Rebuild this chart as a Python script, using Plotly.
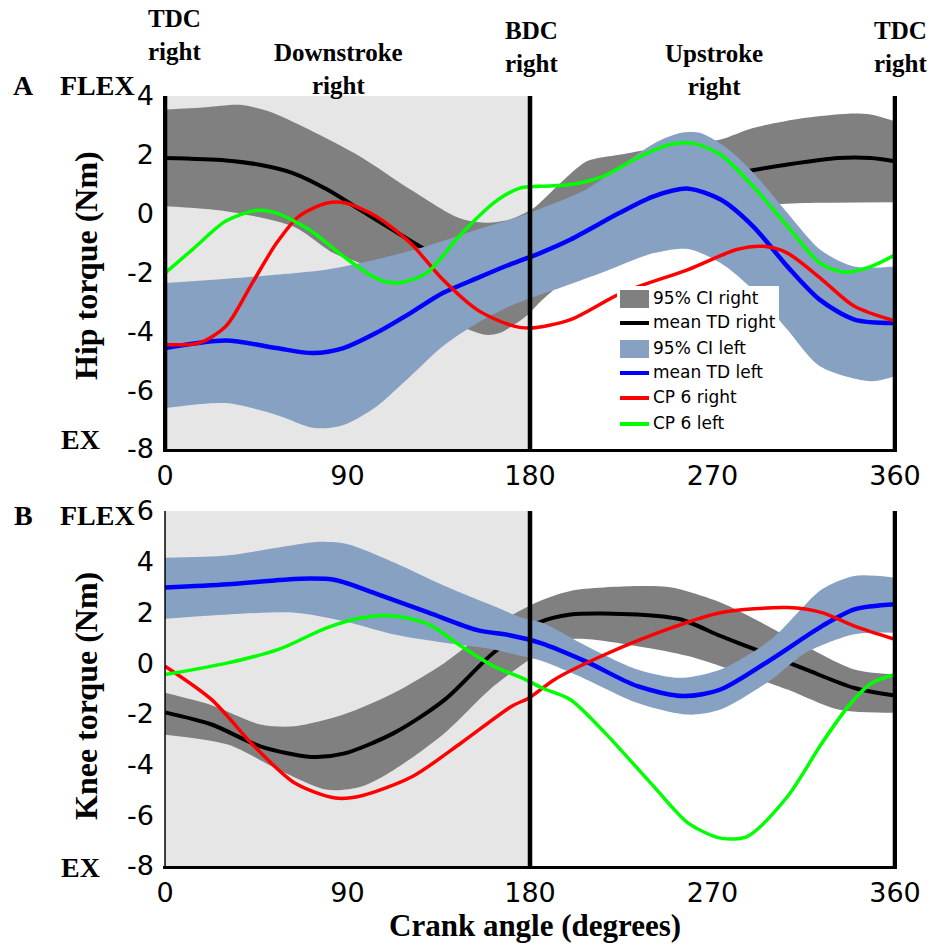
import plotly.graph_objects as go

W, H = 936, 945

# ---------------- Panel A: hip torque (Nm) vs crank angle (deg) ----------------
hip_ci_right_hi_deg = [0, 20, 37, 51, 71, 96, 121, 145, 158, 170, 182, 195, 208, 224, 240, 257, 274, 290, 315, 337, 348, 360]
hip_ci_right_hi = [3.54, 3.62, 3.7, 3.48, 2.86, 1.95, 0.82, -0.15, -0.31, -0.2, 0.2, 1.04, 1.78, 2.0, 2.2, 2.35, 2.52, 2.91, 3.25, 3.4, 3.37, 3.14]
hip_ci_right_lo_deg = [0, 30, 63, 83, 96, 110, 125, 138, 148, 158, 165, 178, 185, 195, 210, 225, 240, 255, 270, 285, 302, 323, 360]
hip_ci_right_lo = [0.25, 0.08, -0.43, -1.34, -1.68, -2.3, -3.0, -3.5, -3.89, -4.12, -4.06, -3.49, -3.0, -2.4, -1.7, -1.3, -1.0, -0.7, -0.35, 0.05, 0.31, 0.37, 0.39]
hip_mean_right_deg = [0, 30, 46, 63, 80, 96, 112, 127, 142, 157, 170, 182, 195, 210, 225, 240, 255, 270, 287, 307, 332, 348, 360]
hip_mean_right = [1.89, 1.81, 1.67, 1.38, 0.82, 0.14, -0.54, -1.17, -1.75, -2.1, -2.0, -1.6, -0.8, -0.05, 0.35, 0.6, 0.85, 1.1, 1.44, 1.67, 1.89, 1.89, 1.78]

hip_ci_left_hi_deg = [0, 46, 80, 104, 129, 154, 175, 190, 207, 224, 241, 254, 264, 277, 290, 307, 323, 340, 360]
hip_ci_left_hi = [-2.36, -2.13, -1.9, -1.56, -1.11, -0.54, -0.1, 0.3, 0.8, 1.58, 2.38, 2.74, 2.74, 2.23, 1.4, 0.02, -1.22, -1.8, -1.8]
hip_ci_left_lo_deg = [0, 30, 55, 74, 88, 104, 121, 137, 154, 170, 185, 192, 216, 241, 258, 274, 290, 307, 323, 348, 360]
hip_ci_left_lo = [-6.61, -6.44, -6.84, -7.29, -7.18, -6.57, -5.53, -4.51, -3.72, -3.15, -2.76, -2.59, -1.99, -1.34, -1.2, -1.68, -2.59, -3.95, -5.19, -5.7, -5.53]
hip_mean_left_deg = [0, 30, 55, 73, 88, 104, 121, 137, 154, 170, 185, 200, 224, 241, 258, 274, 290, 307, 323, 340, 360]
hip_mean_left = [-4.57, -4.31, -4.57, -4.74, -4.57, -4.06, -3.38, -2.7, -2.19, -1.73, -1.34, -0.88, 0.02, 0.59, 0.85, 0.48, -0.43, -1.8, -2.93, -3.6, -3.72]

hip_cp_right_deg = [0, 17, 30, 43, 55, 66, 80, 89, 104, 121, 137, 154, 170, 180, 200, 225, 258, 282, 295, 307, 324, 340, 360]
hip_cp_right = [-4.45, -4.39, -3.83, -2.36, -1.0, -0.09, 0.36, 0.36, -0.09, -1.0, -2.24, -3.27, -3.78, -3.89, -3.6, -2.7, -1.9, -1.22, -1.11, -1.34, -2.24, -3.15, -3.65]
hip_cp_left_deg = [0, 13.5, 30, 45, 55, 71, 88, 104, 114, 129, 145, 162, 175, 185, 200, 216, 233, 249, 261, 274, 290, 307, 323, 335, 348, 360]
hip_cp_left = [-2.02, -1.22, -0.25, 0.11, 0.02, -0.54, -1.45, -2.19, -2.36, -2.02, -0.77, 0.36, 0.87, 0.93, 0.99, 1.27, 1.9, 2.35, 2.38, 2.0, 0.93, -0.43, -1.68, -1.99, -1.8, -1.4]

# ---------------- Panel B: knee torque (Nm) vs crank angle (deg) ----------------
knee_ci_right_hi_deg = [0, 23, 47, 64, 88, 113, 138, 162, 184, 200, 233, 250, 274, 291, 316, 340, 360]
knee_ci_right_hi = [-1.17, -1.66, -2.42, -2.49, -2.03, -1.17, 0.02, 1.46, 2.42, 2.85, 3.04, 2.98, 2.39, 1.73, 0.67, -0.25, -0.45]
knee_ci_right_lo_deg = [0, 31, 56, 80, 97, 113, 138, 162, 184, 200, 233, 258, 274, 307, 332, 360]
knee_ci_right_lo = [-2.82, -3.21, -4.2, -4.99, -4.86, -4.2, -2.75, -0.91, 0.35, 0.94, 0.67, 0.28, -0.12, -1.04, -1.83, -1.96]
knee_mean_right_deg = [0, 23, 47, 72, 88, 113, 138, 162, 184, 200, 233, 254, 274, 291, 316, 340, 360]
knee_mean_right = [-1.94, -2.42, -3.28, -3.7, -3.57, -2.75, -1.44, 0.41, 1.59, 1.92, 1.92, 1.73, 1.07, 0.54, -0.25, -0.98, -1.28]

knee_ci_left_hi_deg = [0, 31, 56, 75, 90, 113, 138, 162, 176, 186, 208, 233, 254, 274, 299, 324, 340, 360]
knee_ci_left_hi = [4.16, 4.25, 4.56, 4.78, 4.69, 3.97, 3.04, 2.25, 1.79, 1.59, 0.67, -0.25, -0.58, -0.25, 0.94, 2.91, 3.44, 3.37]
knee_ci_left_lo_deg = [0, 31, 64, 88, 113, 138, 162, 176, 186, 208, 233, 258, 274, 299, 316, 340, 360]
knee_ci_left_lo = [1.75, 1.92, 1.99, 1.66, 1.13, 0.8, 0.54, 0.28, 0.08, -0.65, -1.57, -2.03, -1.83, -0.65, 0.41, 1.14, 1.2]
knee_mean_left_deg = [0, 31, 67, 84, 105, 130, 154, 170, 185, 208, 233, 256, 274, 299, 324, 340, 360]
knee_mean_left = [2.98, 3.11, 3.33, 3.28, 2.71, 1.99, 1.3, 1.1, 0.8, 0.05, -0.91, -1.3, -1.04, 0.15, 1.46, 2.12, 2.32]

knee_cp_right_deg = [0, 23, 44, 64, 84, 97, 122, 146, 171, 180, 192, 217, 250, 274, 307, 324, 340, 360]
knee_cp_right = [-0.12, -1.44, -3.28, -4.73, -5.32, -5.23, -4.47, -3.15, -1.7, -1.35, -0.65, 0.34, 1.4, 1.99, 2.19, 1.99, 1.46, 0.94]
knee_cp_left_deg = [0, 31, 56, 80, 97, 113, 130, 146, 162, 176, 186, 200, 217, 241, 258, 274, 287, 307, 324, 337, 348, 360]
knee_cp_left = [-0.45, 0.01, 0.54, 1.4, 1.79, 1.86, 1.53, 0.67, -0.12, -0.58, -0.98, -1.44, -2.75, -4.86, -6.31, -6.9, -6.84, -5.26, -3.15, -1.7, -0.81, -0.45]

# ---------------- axis ticks and labels ----------------
angle_ticks = [0, 90, 180, 270, 360]
hip_ticks = [-8, -6, -4, -2, 0, 2, 4]
knee_ticks = [-8, -6, -4, -2, 0, 2, 4, 6]
series_names = ["95% CI right", "mean TD right", "95% CI left", "mean TD left", "CP 6 right", "CP 6 left"]
phase_labels = ["TDC<br>right", "Downstroke<br>right", "BDC<br>right", "Upstroke<br>right", "TDC<br>right"]

GRAY_CI = "#808080"
BLUE_CI = "#86a1c2"
SHADE = "#e6e6e6"
SERIF = "Liberation Serif"
SANS = "DejaVu Sans"


def px(x):
    return x / W


def py(y):
    return 1 - y / H


fig = go.Figure()


def add_panel(xa, ya, ci_r, mean_r, ci_l, mean_l, cp_r, cp_l):
    spl = dict(shape="spline", smoothing=0.8)
    (lo_x, lo_y, hi_x, hi_y) = ci_r
    fig.add_trace(go.Scatter(x=lo_x, y=lo_y, mode="lines", line=dict(width=0, **spl),
                             xaxis=xa, yaxis=ya, showlegend=False, hoverinfo="skip"))
    fig.add_trace(go.Scatter(x=hi_x, y=hi_y, mode="lines", fill="tonexty", fillcolor=GRAY_CI,
                             line=dict(width=0, **spl), name=series_names[0],
                             xaxis=xa, yaxis=ya, showlegend=False))
    fig.add_trace(go.Scatter(x=mean_r[0], y=mean_r[1], mode="lines", name=series_names[1],
                             line=dict(color="black", width=4, **spl),
                             xaxis=xa, yaxis=ya, showlegend=False))
    (lo_x, lo_y, hi_x, hi_y) = ci_l
    fig.add_trace(go.Scatter(x=lo_x, y=lo_y, mode="lines", line=dict(width=0, **spl),
                             xaxis=xa, yaxis=ya, showlegend=False, hoverinfo="skip"))
    fig.add_trace(go.Scatter(x=hi_x, y=hi_y, mode="lines", fill="tonexty", fillcolor=BLUE_CI,
                             line=dict(width=0, **spl), name=series_names[2],
                             xaxis=xa, yaxis=ya, showlegend=False))
    fig.add_trace(go.Scatter(x=mean_l[0], y=mean_l[1], mode="lines", name=series_names[3],
                             line=dict(color="#0000ff", width=4.5, **spl),
                             xaxis=xa, yaxis=ya, showlegend=False))
    fig.add_trace(go.Scatter(x=cp_r[0], y=cp_r[1], mode="lines", name=series_names[4],
                             line=dict(color="#ff0000", width=3.5, **spl),
                             xaxis=xa, yaxis=ya, showlegend=False))
    fig.add_trace(go.Scatter(x=cp_l[0], y=cp_l[1], mode="lines", name=series_names[5],
                             line=dict(color="#00ff00", width=3.5, **spl),
                             xaxis=xa, yaxis=ya, showlegend=False))


add_panel("x", "y",
          (hip_ci_right_lo_deg, hip_ci_right_lo, hip_ci_right_hi_deg, hip_ci_right_hi),
          (hip_mean_right_deg, hip_mean_right),
          (hip_ci_left_lo_deg, hip_ci_left_lo, hip_ci_left_hi_deg, hip_ci_left_hi),
          (hip_mean_left_deg, hip_mean_left),
          (hip_cp_right_deg, hip_cp_right),
          (hip_cp_left_deg, hip_cp_left))
add_panel("x2", "y2",
          (knee_ci_right_lo_deg, knee_ci_right_lo, knee_ci_right_hi_deg, knee_ci_right_hi),
          (knee_mean_right_deg, knee_mean_right),
          (knee_ci_left_lo_deg, knee_ci_left_lo, knee_ci_left_hi_deg, knee_ci_left_hi),
          (knee_mean_left_deg, knee_mean_left),
          (knee_cp_right_deg, knee_cp_right),
          (knee_cp_left_deg, knee_cp_left))

# a one-degree pad each side keeps the 0 and 360 crank markers fully visible
x_dom = [px(163), px(897)]
tickfont = dict(family=SANS, size=27, color="black")
common_x = dict(domain=x_dom, range=[-1, 361], tickvals=angle_ticks, ticktext=[str(t) for t in angle_ticks],
                showline=True, linecolor="black", linewidth=3, ticks="", showgrid=False, zeroline=False,
                tickfont=tickfont, ticklabelstandoff=1, fixedrange=True, automargin=False)
common_y = dict(showline=False, ticks="", showgrid=False, zeroline=False, tickfont=tickfont,
                ticklabelstandoff=8, fixedrange=True, automargin=False)

fig.update_layout(
    width=W, height=H,
    margin=dict(l=0, r=0, t=0, b=0, autoexpand=False),
    paper_bgcolor="white", plot_bgcolor="white",
    showlegend=False,
    xaxis=dict(anchor="y", **common_x),
    xaxis2=dict(anchor="y2", **common_x),
    yaxis=dict(anchor="x", domain=[py(449), py(96)], range=[-8, 4], tickvals=hip_ticks,
               ticktext=[str(t) for t in hip_ticks], **common_y),
    yaxis2=dict(anchor="x2", domain=[py(866), py(511)], range=[-8, 6], tickvals=knee_ticks,
                ticktext=[str(t) for t in knee_ticks], **common_y),
)

shapes = []
# downstroke shading and crank-position markers
for xr, yr, left_w in (("x", "y domain", 4.5), ("x2", "y2 domain", 1.5)):
    shapes.append(dict(type="rect", xref=xr, yref=yr, x0=0, x1=180, y0=0, y1=1,
                       fillcolor=SHADE, line=dict(width=0), layer="below"))
    shapes.append(dict(type="line", xref=xr, yref=yr, x0=0, x1=0, y0=0, y1=1,
                       line=dict(color="black", width=left_w), layer="above"))
    for xv in (180, 360):
        shapes.append(dict(type="line", xref=xr, yref=yr, x0=xv, x1=xv, y0=0, y1=1,
                           line=dict(color="black", width=4.5), layer="above"))

# legend box
leg_colors = [GRAY_CI, "black", BLUE_CI, "#0000ff", "#ff0000", "#00ff00"]
leg_is_patch = [True, False, True, False, False, False]
leg_rows = [299, 323, 349, 373, 398, 424]
shapes.append(dict(type="rect", xref="paper", yref="paper", x0=px(617), x1=px(779), y0=py(440), y1=py(286),
                   fillcolor="white", line=dict(width=0), layer="above"))
annotations = []
for name, col, patch, yr in zip(series_names, leg_colors, leg_is_patch, leg_rows):
    if patch:
        shapes.append(dict(type="rect", xref="paper", yref="paper", x0=px(620), x1=px(649),
                           y0=py(yr + 9), y1=py(yr - 9), fillcolor=col, line=dict(width=0), layer="above"))
    else:
        shapes.append(dict(type="line", xref="paper", yref="paper", x0=px(620), x1=px(649),
                           y0=py(yr), y1=py(yr), line=dict(color=col, width=4), layer="above"))
    annotations.append(dict(text=name, xref="paper", yref="paper", x=px(651), y=py(yr - 1),
                            xanchor="left", yanchor="middle", showarrow=False,
                            font=dict(family=SANS, size=17, color="black")))

# crank phase labels above panel A
phase_x = [174, 338, 531, 714, 900]
phase_y = [35, 69, 47, 70, 47]
for txt, xc, yc in zip(phase_labels, phase_x, phase_y):
    annotations.append(dict(text=f"<b>{txt}</b>", xref="paper", yref="paper", x=px(xc), y=py(yc),
                            xanchor="center", yanchor="middle", showarrow=False,
                            font=dict(family=SERIF, size=25, color="black")))

# panel letters and direction labels
for txt, xc, yc in (("A", 23, 85), ("FLEX", 97, 85), ("EX", 80, 439),
                    ("B", 23, 515), ("FLEX", 97, 515), ("EX", 80, 867)):
    annotations.append(dict(text=f"<b>{txt}</b>", xref="paper", yref="paper", x=px(xc), y=py(yc),
                            xanchor="center", yanchor="middle", showarrow=False,
                            font=dict(family=SERIF, size=28, color="black")))

# axis titles
annotations.append(dict(text="<b>Hip torque (Nm)</b>", xref="paper", yref="paper", x=px(86), y=py(266),
                        xanchor="center", yanchor="middle", textangle=-90, showarrow=False,
                        font=dict(family=SERIF, size=32, color="black")))
annotations.append(dict(text="<b>Knee torque (Nm)</b>", xref="paper", yref="paper", x=px(86), y=py(696),
                        xanchor="center", yanchor="middle", textangle=-90, showarrow=False,
                        font=dict(family=SERIF, size=32, color="black")))
annotations.append(dict(text="<b>Crank angle (degrees)</b>", xref="paper", yref="paper", x=px(535), y=py(925),
                        xanchor="center", yanchor="middle", showarrow=False,
                        font=dict(family=SERIF, size=31, color="black")))

fig.update_layout(shapes=shapes, annotations=annotations)
fig.write_html("out.html")
